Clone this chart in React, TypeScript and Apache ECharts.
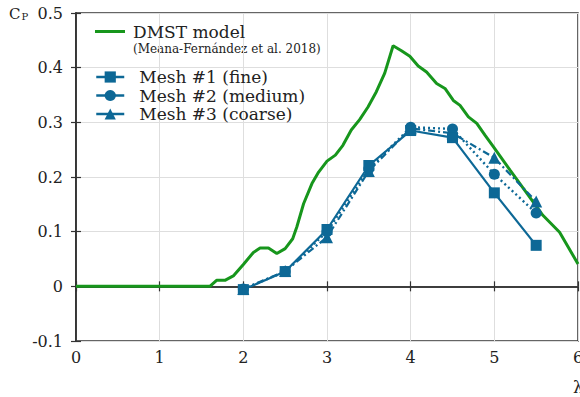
import React, { useEffect, useRef } from "react";
import * as echarts from "echarts";

// Power coefficient vs tip speed ratio
const dmstX = [0, 1.6, 1.68, 1.78, 1.88, 2.0, 2.12, 2.2, 2.3, 2.4, 2.5, 2.59, 2.64, 2.72, 2.82, 2.9, 3.0, 3.1, 3.19, 3.29, 3.39, 3.49, 3.59, 3.69, 3.79, 3.89, 3.99, 4.09, 4.19, 4.31, 4.41, 4.51, 4.59, 4.69, 4.79, 4.89, 4.99, 5.19, 5.39, 5.58, 5.78, 6.0];
const dmstY = [0, 0, 0.011, 0.011, 0.019, 0.04, 0.062, 0.07, 0.07, 0.06, 0.069, 0.087, 0.109, 0.151, 0.188, 0.209, 0.229, 0.24, 0.258, 0.286, 0.305, 0.328, 0.356, 0.39, 0.44, 0.431, 0.421, 0.403, 0.392, 0.371, 0.362, 0.34, 0.331, 0.31, 0.298, 0.276, 0.255, 0.212, 0.17, 0.13, 0.099, 0.041];

const meshX = [2, 2.5, 3, 3.5, 4, 4.5, 5, 5.5];
const mesh1 = [-0.006, 0.027, 0.104, 0.221, 0.285, 0.272, 0.171, 0.075];
const mesh2 = [-0.005, 0.027, 0.1, 0.215, 0.291, 0.288, 0.205, 0.134];
const mesh3 = [-0.005, 0.028, 0.09, 0.211, 0.289, 0.28, 0.235, 0.155];

const seriesNames = ["DMST model", "Mesh #1 (fine)", "Mesh #2 (medium)", "Mesh #3 (coarse)"];

const xTicks = { min: 0, max: 6, interval: 1 };
const yTicks = { min: -0.1, max: 0.5, interval: 0.1 };

const GREEN = "#17961c";
const BLUE = "#0d6896";
const FONT = "DejaVu Serif";
const INK = "#222";

const pair = (xs: number[], ys: number[]) => xs.map((x, i) => [x, ys[i]]);

export default function App() {
  const ref = useRef<HTMLDivElement>(null);

  useEffect(() => {
    if (!ref.current) return;
    const chart = echarts.init(ref.current, undefined, { renderer: "svg" });

    const axisLine = { show: true, lineStyle: { color: "#333", width: 1.5 } };
    const tick = { show: true, inside: true, length: 5, lineStyle: { color: "#333", width: 1.2 } };
    const split = { show: true, lineStyle: { color: "#dedede", width: 1 } };
    const labelStyle = { fontFamily: FONT, fontSize: 16, color: INK };

    chart.setOption({
      animation: false,
      backgroundColor: "#fff",
      textStyle: { fontFamily: FONT },
      grid: {
        left: 76, right: 2, top: 13, bottom: 56,
        show: true, borderColor: "#333", borderWidth: 1.5,
        containLabel: false, outerBoundsMode: "none",
      },
      xAxis: [
        {
          type: "value", ...xTicks, position: "bottom",
          axisLine, axisTick: tick, splitLine: split,
          axisLabel: { ...labelStyle, margin: 8, formatter: (v: number) => String(v) },
        },
        {
          type: "value", ...xTicks, position: "top",
          axisLine, axisTick: tick, splitLine: { show: false }, axisLabel: { show: false },
        },
      ],
      yAxis: [
        {
          type: "value", ...yTicks, position: "left",
          axisLine, axisTick: tick, splitLine: split,
          axisLabel: { ...labelStyle, margin: 13, formatter: (v: number) => String(+v.toFixed(1)) },
        },
        {
          type: "value", ...yTicks, position: "right",
          axisLine, axisTick: tick, splitLine: { show: false }, axisLabel: { show: false },
        },
      ],
      legend: [
        {
          data: [seriesNames[0]],
          left: 90, top: 18, orient: "vertical",
          icon: "rect", itemWidth: 30, itemHeight: 3,
          selectedMode: false,
          textStyle: { fontFamily: FONT, fontSize: 17, color: INK, padding: [0, 0, 0, 3] },
        },
        {
          data: seriesNames.slice(1),
          left: 90, top: 63, orient: "vertical",
          itemWidth: 28, itemHeight: 14, itemGap: 0.5,
          selectedMode: false,
          lineStyle: { type: "solid", width: 2.5 },
          textStyle: { fontFamily: FONT, fontSize: 17, lineHeight: 18, color: INK, padding: [0, 0, 0, 10] },
        },
      ],
      graphic: [
        {
          type: "text", left: 133, top: 43,
          style: { text: "(Meana-Fernández et al. 2018)", fontFamily: FONT, fontSize: 12, fill: INK },
        },
        {
          type: "text", left: 9, top: 6,
          style: {
            text: "{c|C}{p|P}",
            rich: {
              c: { fontFamily: FONT, fontSize: 15, fill: INK },
              p: { fontFamily: FONT, fontSize: 10, fill: INK, padding: [6, 0, 0, 1] },
            },
          },
        },
        {
          type: "text", left: 573, top: 379,
          style: { text: "λ", fontFamily: FONT, fontSize: 16, fill: INK },
        },
      ],
      series: [
        {
          name: seriesNames[0], type: "line", data: pair(dmstX, dmstY),
          showSymbol: false, symbol: "none", z: 1,
          lineStyle: { color: GREEN, width: 3 }, itemStyle: { color: GREEN },
        },
        {
          name: seriesNames[3], type: "line", data: pair(meshX, mesh3),
          symbol: "triangle", symbolSize: 12, z: 2,
          lineStyle: { color: BLUE, width: 2.2, type: [7, 3, 2, 3] }, itemStyle: { color: BLUE },
        },
        {
          name: seriesNames[2], type: "line", data: pair(meshX, mesh2),
          symbol: "circle", symbolSize: 11, z: 3,
          lineStyle: { color: BLUE, width: 2.4, type: [2, 3] }, itemStyle: { color: BLUE },
        },
        {
          name: seriesNames[1], type: "line", data: pair(meshX, mesh1),
          symbol: "rect", symbolSize: 11, z: 4,
          lineStyle: { color: BLUE, width: 2.2 }, itemStyle: { color: BLUE },
        },
      ],
    });

    return () => chart.dispose();
  }, []);

  return <div ref={ref} style={{ position: "absolute", left: 0, top: 0, width: 580, height: 397 }} />;
}
